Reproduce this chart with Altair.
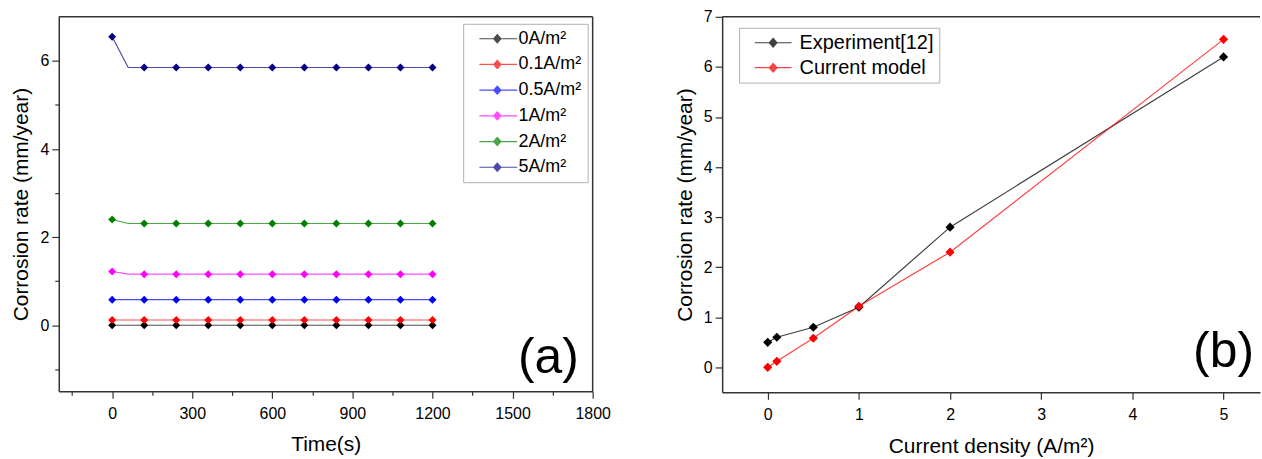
import altair as alt
import pandas as pd

# ---------------- data: panel (a) ----------------
time_s = [0, 60, 120, 240, 360, 480, 600, 720, 840, 960, 1080, 1200]
series_names = ["0A/m²", "0.1A/m²", "0.5A/m²", "1A/m²", "2A/m²", "5A/m²"]
series_colors = ["#000000", "#ff0000", "#0000ff", "#ff00ff", "#008000", "#000080"]
rate_0A = [0.0, 0.0, 0.0, 0.0, 0.0, 0.0, 0.0, 0.0, 0.0, 0.0, 0.0, 0.0]
rate_01A = [0.12, 0.12, 0.12, 0.12, 0.12, 0.12, 0.12, 0.12, 0.12, 0.12, 0.12, 0.12]
rate_05A = [0.58, 0.58, 0.58, 0.58, 0.58, 0.58, 0.58, 0.58, 0.58, 0.58, 0.58, 0.58]
rate_1A = [1.22, 1.16, 1.16, 1.16, 1.16, 1.16, 1.16, 1.16, 1.16, 1.16, 1.16, 1.16]
rate_2A = [2.40, 2.31, 2.31, 2.31, 2.31, 2.31, 2.31, 2.31, 2.31, 2.31, 2.31, 2.31]
rate_5A = [6.55, 5.85, 5.85, 5.85, 5.85, 5.85, 5.85, 5.85, 5.85, 5.85, 5.85, 5.85]
marker_step_s = 120

# ---------------- data: panel (b) ----------------
density = [0, 0.1, 0.5, 1, 2, 5]
experiment = [0.5, 0.6, 0.8, 1.2, 2.8, 6.2]
model = [0.0, 0.12, 0.58, 1.22, 2.3, 6.55]
b_names = ["Experiment[12]", "Current model"]
b_colors = ["#000000", "#ff0000"]

# axis ticks
xa_ticks = [-150, 0, 150, 300, 450, 600, 750, 900, 1050, 1200, 1350, 1500, 1650, 1800]
ya_ticks = [-1, 0, 1, 2, 3, 4, 5, 6]
xb_ticks = [0, 0.5, 1, 1.5, 2, 2.5, 3, 3.5, 4, 4.5, 5]
yb_ticks = [0, 0.5, 1, 1.5, 2, 2.5, 3, 3.5, 4, 4.5, 5, 5.5, 6, 6.5, 7]

xa_dom = [-200, 1800]
ya_dom = [-1.5, 7]
xb_dom = [-0.5, 5.4]
yb_dom = [-0.5, 7]

FONT = "Liberation Sans"
FRAME = "#333333"

rows = []
for name, vals in zip(series_names, [rate_0A, rate_01A, rate_05A, rate_1A, rate_2A, rate_5A]):
    for t, v in zip(time_s, vals):
        rows.append({"t": t, "v": v, "s": name})
df_a = pd.DataFrame(rows)

rows = []
for name, vals in zip(b_names, [experiment, model]):
    for d, v in zip(density, vals):
        rows.append({"d": d, "v": v, "s": name})
df_b = pd.DataFrame(rows)

# custom legend symbols: a horizontal line with a diamond on it (units of 8 px)
LEG_PATH_A = ("M0.16,-0.075L4.91,-0.075L4.91,0.075L0.16,0.075Z"
              "M2.41,-0.62L2.97,0L2.41,0.62L1.85,0Z")
LEG_PATH_B = ("M0.09,-0.075L4.71,-0.075L4.71,0.075L0.09,0.075Z"
              "M2.4,-0.66L2.98,0L2.4,0.66L1.82,0Z")


def tick_size(test):
    return {"condition": {"test": test, "value": 7}, "value": 4}


def make_legend(x, y, path, font_size, label_offset, pad, row_pad):
    return alt.Legend(
        title=None, orient="none", legendX=x, legendY=y,
        symbolType=path, symbolSize=256, symbolStrokeWidth=0,
        labelFont=FONT, labelFontSize=font_size, labelColor="#000",
        labelOffset=label_offset, rowPadding=row_pad, padding=pad,
        strokeColor="#b0b0b0", fillColor="white", cornerRadius=0)


# ---------------- panel (a) ----------------
xa_axis = alt.Axis(values=xa_ticks, format="d", title="Time(s)",
                   labelExpr="datum.value >= 0 && datum.value % 300 === 0 ? datum.label : ''",
                   tickSize=tick_size("datum.value % 300 === 0"),
                   labelPadding=7, titlePadding=12)
ya_axis = alt.Axis(values=ya_ticks, format="d", title="Corrosion rate (mm/year)",
                   labelExpr="datum.value % 2 === 0 ? datum.label : ''",
                   tickSize=tick_size("datum.value % 2 === 0"))
xa = alt.X("t:Q", scale=alt.Scale(domain=xa_dom, nice=False, zero=False), axis=xa_axis)
ya = alt.Y("v:Q", scale=alt.Scale(domain=ya_dom, nice=False, zero=False), axis=ya_axis)
color_a = alt.Scale(domain=series_names, range=series_colors)
leg_a = make_legend(406, 7, LEG_PATH_A, 18, 31.5, 6, 7.8)

base_a = alt.Chart(df_a)
lines_a = base_a.mark_line(strokeWidth=1.2, opacity=0.7).encode(
    x=xa, y=ya, color=alt.Color("s:N", scale=color_a, legend=leg_a))
pts_a = base_a.transform_filter(f"datum.t % {marker_step_s} === 0").mark_point(
    shape="diamond", filled=True, size=64, opacity=1).encode(
    x=xa, y=ya, color=alt.Color("s:N", scale=color_a, legend=leg_a))

dummy = pd.DataFrame({"k": [0]})
top_a = alt.Chart(dummy).mark_rule(color=FRAME, strokeWidth=1.5).encode(
    x=alt.datum(xa_dom[0]), x2=alt.datum(xa_dom[1]), y=alt.datum(ya_dom[1]))
right_a = alt.Chart(dummy).mark_rule(color=FRAME, strokeWidth=1.5).encode(
    y=alt.datum(ya_dom[0]), y2=alt.datum(ya_dom[1]), x=alt.datum(xa_dom[1]))
label_a = alt.Chart(dummy).mark_text(text="(a)", font=FONT, fontSize=50,
                                     align="center", baseline="alphabetic").encode(
    x=alt.datum(1634), y=alt.datum(-1.08))

panel_a = alt.layer(lines_a, pts_a, top_a, right_a, label_a).properties(width=536, height=376)

# ---------------- panel (b) ----------------
xb_axis = alt.Axis(values=xb_ticks, format="d", title="Current density (A/m²)",
                   labelExpr="datum.value % 1 === 0 ? datum.label : ''",
                   tickSize=tick_size("datum.value % 1 === 0"),
                   labelPadding=7, titlePadding=13)
yb_axis = alt.Axis(values=yb_ticks, format="d", title="Corrosion rate (mm/year)",
                   labelExpr="datum.value % 1 === 0 ? datum.label : ''",
                   tickSize=tick_size("datum.value % 1 === 0"))
xb = alt.X("d:Q", scale=alt.Scale(domain=xb_dom, nice=False, zero=False), axis=xb_axis)
yb = alt.Y("v:Q", scale=alt.Scale(domain=yb_dom, nice=False, zero=False), axis=yb_axis)
color_b = alt.Scale(domain=b_names, range=b_colors)
leg_b = make_legend(17, 11, LEG_PATH_B, 20, 35.7, 5, 5)

base_b = alt.Chart(df_b)
lines_b = base_b.mark_line(strokeWidth=1.2, opacity=0.75).encode(
    x=xb, y=yb, color=alt.Color("s:N", scale=color_b, legend=leg_b))
pts_b = base_b.mark_point(shape="diamond", filled=True, size=85, opacity=1).encode(
    x=xb, y=yb, color=alt.Color("s:N", scale=color_b, legend=leg_b))
top_b = alt.Chart(dummy).mark_rule(color=FRAME, strokeWidth=1.5).encode(
    x=alt.datum(xb_dom[0]), x2=alt.datum(xb_dom[1]), y=alt.datum(yb_dom[1]))
label_b = alt.Chart(dummy).mark_text(text="(b)", font=FONT, fontSize=50,
                                     align="center", baseline="alphabetic").encode(
    x=alt.datum(5.0), y=alt.datum(0.0))

panel_b = alt.layer(lines_b, pts_b, top_b, label_b).properties(width=540, height=377)

chart = alt.hconcat(panel_a, panel_b, spacing=62).resolve_scale(color="independent").properties(
    padding={"left": 10, "top": 7, "right": 0, "bottom": 0},
    background="white"
).configure_view(stroke="transparent").configure_axis(
    grid=False, domainColor=FRAME, domainWidth=1.5, tickColor=FRAME, tickWidth=1.2,
    labelFont=FONT, labelFontSize=16, labelColor="#000", labelPadding=3,
    labelOverlap=False, labelFlush=False,
    titleFont=FONT, titleFontSize=21, titleFontWeight="normal", titleColor="#000",
    titlePadding=8
)

chart.save("out.html", embed_options={"renderer": "svg", "actions": False})
